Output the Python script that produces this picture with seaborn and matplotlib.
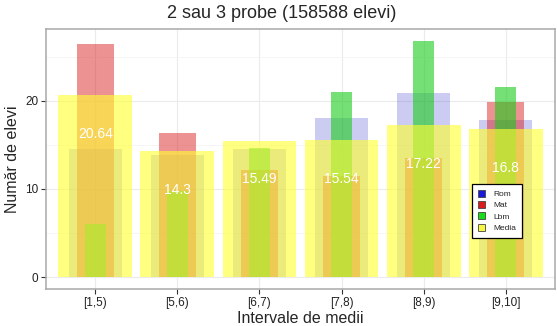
import matplotlib
matplotlib.use("Agg")
import matplotlib.pyplot as plt
from matplotlib.patches import Patch
from matplotlib.ticker import MultipleLocator
import numpy as np
import pandas as pd
import seaborn as sns

# Share of students (%) per grade interval, by exam subject
intervals = ["[1,5)", "[5,6)", "[6,7)", "[7,8)", "[8,9)", "[9,10]"]
rom = [14.5, 13.8, 14.5, 18.1, 20.9, 17.85]
mat = [26.4, 16.3, 12.2, 11.5, 13.5, 19.9]
lbm = [6.0, 9.8, 14.7, 21.0, 26.8, 21.6]
media = [20.64, 14.3, 15.49, 15.54, 17.22, 16.8]

df = pd.DataFrame({"Interval": intervals, "Rom": rom, "Mat": mat,
                   "Lbm": lbm, "Media": media})

sns.set_theme(style="white")
plt.rcParams["font.family"] = ["Liberation Sans", "DejaVu Sans"]

fig = plt.figure(figsize=(5.57, 3.26), dpi=100)
ax = fig.add_axes([46 / 557, 37 / 326, 509 / 557, 260 / 326])

# (column, bar width, fill colour, opacity) -- drawn back to front
layers = [
    ("Rom", 0.65, (0.1, 0.1, 0.8), 0.22),
    ("Mat", 0.45, (0.85, 0.05, 0.05), 0.45),
    ("Lbm", 0.25, (0.1, 0.8, 0.1), 0.6),
    ("Media", 0.9, (1.0, 1.0, 0.2), 0.62),
]
for col, w, c, a in layers:
    sns.barplot(data=df, x="Interval", y=col, order=intervals, width=w,
                color=c, alpha=a, saturation=1, linewidth=0, ax=ax,
                zorder=3)

for i, v in enumerate(media):
    ax.text(i, v - 4.4, f"{v:g}", color="white", fontsize=10,
            ha="center", va="center", zorder=5)

ax.set_xlim(-0.6, 5.6)
ax.set_ylim(-1.34, 28.14)
ax.yaxis.set_major_locator(MultipleLocator(10))
ax.yaxis.set_minor_locator(MultipleLocator(5))
ax.grid(True, which="major", color="#ebebeb", linewidth=0.8, zorder=0)
ax.grid(True, which="minor", axis="y", color="#f4f4f4", linewidth=0.6, zorder=0)
ax.set_axisbelow(True)
ax.tick_params(axis="both", which="major", length=3.5, width=0.8,
               color="#333333", labelsize=8.5, labelcolor="#222222",
               left=True, bottom=True, pad=2)
ax.tick_params(axis="y", which="minor", length=0)
for s in ax.spines.values():
    s.set_color("#a8a8a8")
    s.set_linewidth(1.1)

ax.set_xlabel("Intervale de medii", fontsize=11.5, labelpad=2)
ax.set_ylabel("Număr de elevi", fontsize=11.5, labelpad=4)
fig.text(282 / 557, 1 - 13 / 326, "2 sau 3 probe (158588 elevi)",
         fontsize=13, ha="center", va="center")

handles = [Patch(facecolor=c, edgecolor="#444444", linewidth=0.6, label=n)
           for n, c in [("Rom", "#1a1add"), ("Mat", "#dd1a1a"),
                        ("Lbm", "#1add1a"), ("Media", "#f5f542")]]
leg = fig.legend(handles=handles, loc="upper left",
                 bbox_to_anchor=(472 / 557, 1 - 184 / 326),
                 fontsize=6, frameon=True, fancybox=False, framealpha=1,
                 handlelength=0.9, handleheight=0.9, handletextpad=1.0,
                 labelspacing=0.35, borderpad=0.7, borderaxespad=0)
leg.get_frame().set_edgecolor("black")
leg.get_frame().set_facecolor("white")
leg.get_frame().set_linewidth(0.9)
leg.set_zorder(10)

fig.savefig("out.png", dpi=100)
